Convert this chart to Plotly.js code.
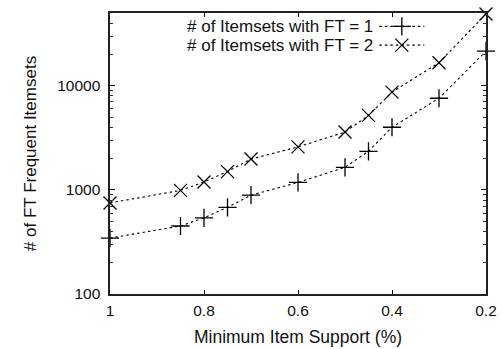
<!DOCTYPE html>
<html>
<head>
<meta charset="utf-8">
<script src="https://cdn.plot.ly/plotly-3.0.1.min.js"></script>
<style>html,body{margin:0;padding:0;background:#fff;}#chart{width:502px;height:349px;}</style>
</head>
<body>
<div id="chart"></div>
<script>
const support = [1, 0.85, 0.8, 0.75, 0.7, 0.6, 0.5, 0.45, 0.4, 0.3, 0.2];
const ft1 = [345, 450, 540, 680, 890, 1180, 1650, 2350, 4000, 7600, 21600];
const ft2 = [750, 990, 1190, 1500, 1980, 2590, 3600, 5200, 8700, 16700, 49000];
const seriesNames = ['# of Itemsets with FT = 1', '# of Itemsets with FT = 2'];
const xTicks = [1, 0.8, 0.6, 0.4, 0.2];
const xTickText = ['1', '0.8', '0.6', '0.4', '0.2'];
const yTicks = [100, 1000, 10000];
const yTickText = ['100', '1000', '10000'];
const yMinorTicks = [200, 300, 400, 500, 600, 700, 800, 900,
                     2000, 3000, 4000, 5000, 6000, 7000, 8000, 9000,
                     20000, 30000, 40000];

const fam = 'Liberation Sans, Arial, sans-serif';
const tickFont = {family: fam, size: 15.5, color: '#111'};
const legFont = {family: fam, size: 17, color: '#111'};
const lineStyle = {color: '#000', width: 1.1, dash: '2.5px,3px'};
const symbols = ['cross-thin-open', 'x-thin-open'];
const ys = [ft1, ft2];
const legendIds = ['legend', 'legend2'];
const legendY = [23, 42];

const traces = [];
for (let i = 0; i < 2; i++) {
  traces.push({
    x: support, y: ys[i], name: seriesNames[i], type: 'scatter', mode: 'lines+markers',
    line: lineStyle, cliponaxis: false, showlegend: false,
    marker: {symbol: symbols[i], size: 13, color: '#000', line: {color: '#000', width: 1.3}}
  });
}
for (let i = 0; i < 2; i++) {
  traces.push({
    x: [null], y: [null], name: ' ', type: 'scatter', mode: 'lines+markers',
    line: lineStyle, showlegend: true, legend: legendIds[i],
    marker: {symbol: symbols[i], size: 13, color: '#000', line: {color: '#000', width: 1.3}}
  });
}

const plotTop = 9, plotH = 285;
function legendBox(i) {
  return {x: 0.703, y: 1 - (legendY[i] - plotTop) / plotH, xanchor: 'left', yanchor: 'middle',
          bgcolor: 'rgba(0,0,0,0)', font: legFont, itemwidth: 45, tracegroupgap: 0};
}

const layout = {
  width: 502, height: 349,
  margin: {l: 110, r: 16, t: plotTop, b: 55},
  paper_bgcolor: '#fff', plot_bgcolor: '#fff',
  font: tickFont,
  showlegend: true,
  legend: legendBox(0),
  legend2: legendBox(1),
  xaxis: {
    range: [1, 0.2], autorange: false,
    tickvals: xTicks, ticktext: xTickText,
    ticks: 'inside', ticklen: 4, tickcolor: '#000', tickwidth: 1,
    showline: true, linecolor: '#222', linewidth: 1.6, mirror: 'ticks',
    showgrid: false, zeroline: false,
    tickfont: tickFont, ticklabelstandoff: 2,
    title: {text: 'Minimum Item Support (%)', font: {family: fam, size: 17.5, color: '#111'}, standoff: 12}
  },
  yaxis: {
    type: 'log', range: [2, 4.70], autorange: false,
    tickmode: 'array', tickvals: yTicks, ticktext: yTickText,
    ticks: 'inside', ticklen: 5, tickcolor: '#000', tickwidth: 1,
    minor: {tickmode: 'array', tickvals: yMinorTicks, ticks: 'inside', ticklen: 3,
            tickcolor: '#333', tickwidth: 1, showgrid: false},
    showline: true, linecolor: '#222', linewidth: 1.6, mirror: 'ticks',
    showgrid: false, zeroline: false,
    tickfont: tickFont, ticklabelstandoff: 5,
    title: {text: '# of FT Frequent Itemsets', font: {family: fam, size: 17, color: '#111'}, standoff: 16}
  },
  annotations: seriesNames.map((t, i) => ({
    text: t, xref: 'paper', yref: 'paper', x: 0.704, y: 1 - (legendY[i] - plotTop) / plotH,
    xanchor: 'right', yanchor: 'middle', showarrow: false, font: legFont
  }))
};

Plotly.newPlot('chart', traces, layout, {staticPlot: true, displayModeBar: false});
</script>
</body>
</html>
